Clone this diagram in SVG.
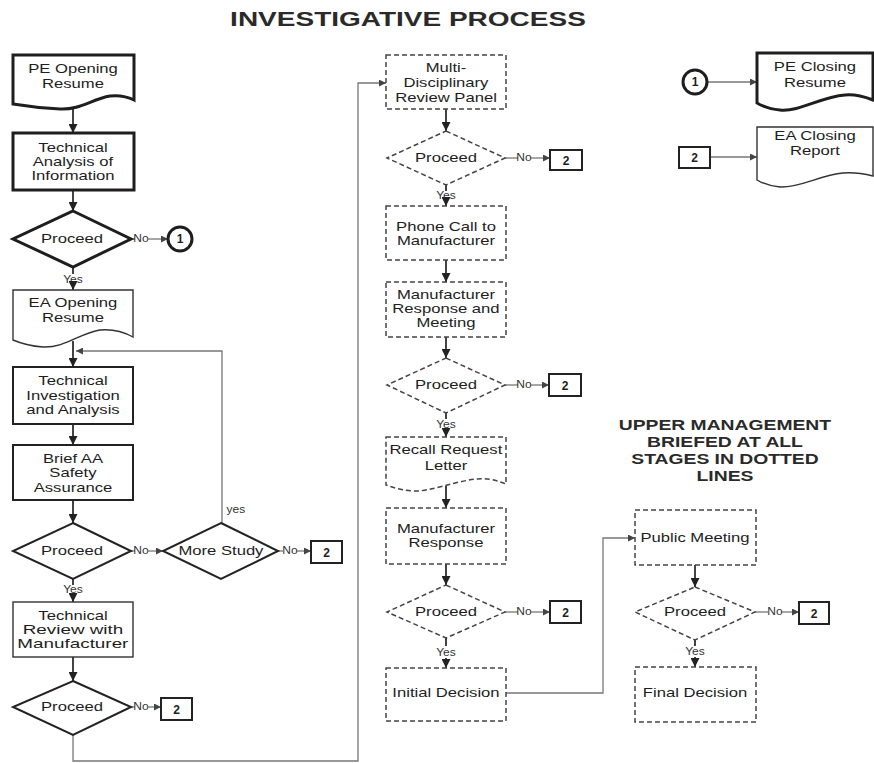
<svg xmlns="http://www.w3.org/2000/svg" width="874" height="763" viewBox="0 0 874 763">
<defs>
<style>
.t{font-family:"Liberation Sans",Arial,sans-serif;font-size:13px;fill:#1e1e1e;text-anchor:middle;transform:scaleX(1.28);transform-box:fill-box;transform-origin:center}
.s{font-family:"Liberation Sans",Arial,sans-serif;font-size:10px;fill:#333;text-anchor:middle;transform:scaleX(1.2);transform-box:fill-box;transform-origin:center}
.n{font-family:"Liberation Sans",Arial,sans-serif;font-size:12px;font-weight:bold;fill:#1e1e1e;text-anchor:middle}
.h{font-family:"Liberation Sans",Arial,sans-serif;font-weight:bold;fill:#2a2a2a;text-anchor:middle;transform-box:fill-box;transform-origin:center}
.k3{fill:#fff;stroke:#1e1e1e;stroke-width:3}
.k2{fill:#fff;stroke:#222;stroke-width:2}
.k1{fill:#fff;stroke:#333;stroke-width:1.4}
.d{fill:#fff;stroke:#444;stroke-width:1.5;stroke-dasharray:5,3}
.a{fill:none;stroke:#222;stroke-width:1.7}
.g{fill:none;stroke:#777;stroke-width:1.3}
</style>
<marker id="ah" viewBox="0 0 10 10" refX="10" refY="5" markerWidth="9" markerHeight="9" orient="auto" markerUnits="userSpaceOnUse"><path d="M0,0 L10,5 L0,10 z" fill="#222"/></marker>
<marker id="as" viewBox="0 0 10 10" refX="10" refY="5" markerWidth="7" markerHeight="7" orient="auto" markerUnits="userSpaceOnUse"><path d="M0,0 L10,5 L0,10 z" fill="#444"/></marker>
</defs>
<rect width="874" height="763" fill="#fff"/>
<text class="h" x="408" y="26.5" font-size="20" style="transform:scaleX(1.4)">INVESTIGATIVE  PROCESS</text>

<g id="connectors">
<path class="a" d="M73,108 V133" marker-end="url(#ah)"/>
<path class="a" d="M73,190 V211" marker-end="url(#ah)"/>
<path class="a" d="M73,267 V274"/>
<text class="s" x="73" y="283">Yes</text>
<path class="a" d="M73,284 V290" marker-end="url(#ah)"/>
<path class="a" d="M73,341 V367" marker-end="url(#ah)"/>
<path class="a" d="M73,424 V445" marker-end="url(#ah)"/>
<path class="a" d="M73,500 V523" marker-end="url(#ah)"/>
<path class="a" d="M73,579 V585"/>
<text class="s" x="73" y="593">Yes</text>
<path class="a" d="M73,595 V602" marker-end="url(#ah)"/>
<path class="a" d="M73,657 V681" marker-end="url(#ah)"/>

<path class="a" d="M446,109 V131" marker-end="url(#ah)"/>
<path class="a" d="M446,185 V191"/>
<text class="s" x="446" y="199">Yes</text>
<path class="a" d="M446,200 V206" marker-end="url(#ah)"/>
<path class="a" d="M446,260 V282" marker-end="url(#ah)"/>
<path class="a" d="M446,337 V358" marker-end="url(#ah)"/>
<path class="a" d="M446,413 V419"/>
<text class="s" x="446" y="428">Yes</text>
<path class="a" d="M446,430 V437" marker-end="url(#ah)"/>
<path class="a" d="M446,486 V508" marker-end="url(#ah)"/>
<path class="a" d="M446,564 V585" marker-end="url(#ah)"/>
<path class="a" d="M446,638 V646"/>
<text class="s" x="446" y="656">Yes</text>
<path class="a" d="M446,658 V668" marker-end="url(#ah)"/>

<path class="a" d="M695,565 V587" marker-end="url(#ah)"/>
<path class="a" d="M695,640 V646"/>
<text class="s" x="695" y="655">Yes</text>
<path class="a" d="M695,657 V667" marker-end="url(#ah)"/>

<path class="g" d="M131,239 H135"/>
<text class="s" x="141" y="242.5">No</text>
<path class="g" d="M147,239 H168" marker-end="url(#as)"/>
<path class="g" d="M131,551 H135"/>
<text class="s" x="141" y="554.5">No</text>
<path class="g" d="M147,551 H163" marker-end="url(#as)"/>
<path class="g" d="M278,551 H283"/>
<text class="s" x="290" y="554.5">No</text>
<path class="g" d="M297,551 H311" marker-end="url(#as)"/>
<path class="g" d="M131,707 H135"/>
<text class="s" x="141" y="710.5">No</text>
<path class="g" d="M147,707 H161" marker-end="url(#as)"/>
<path class="g" d="M505,158 H518"/>
<text class="s" x="524" y="161.5">No</text>
<path class="g" d="M531,158 H550" marker-end="url(#as)"/>
<path class="g" d="M505,385 H518"/>
<text class="s" x="524" y="388.5">No</text>
<path class="g" d="M531,385 H549" marker-end="url(#as)"/>
<path class="g" d="M505,612 H518"/>
<text class="s" x="524" y="615.5">No</text>
<path class="g" d="M531,612 H550" marker-end="url(#as)"/>
<path class="g" d="M755,612 H768"/>
<text class="s" x="775" y="615.5">No</text>
<path class="g" d="M782,612 H799" marker-end="url(#as)"/>

<path class="g" d="M222,523 V351 H76" marker-end="url(#as)"/>
<text class="s" x="236" y="513">yes</text>
<path class="g" d="M73,735 V761 H358 V83 H386" marker-end="url(#as)"/>
<path class="g" d="M506,693 H603 V538 H635" marker-end="url(#as)"/>
<path class="g" d="M707,82 H757" marker-end="url(#as)"/>
<path class="g" d="M710,157 H757" marker-end="url(#as)"/>
</g>

<g id="n-pe-open">
<path class="k3" d="M13,55 H134 V100 C126,96 118,95 110,96 C92,99 80,110 60,109 C40,108 25,106 13,104 Z"/>
<text class="t" x="73" y="73">PE Opening</text>
<text class="t" x="73" y="88">Resume</text>
</g>
<g id="n-tech-analysis">
<rect class="k3" x="13" y="133" width="121" height="57"/>
<text class="t" x="73" y="152">Technical</text>
<text class="t" x="73" y="166">Analysis of</text>
<text class="t" x="73" y="180">Information</text>
</g>
<g id="n-proceed-1">
<polygon class="k3" points="73,211 131,239 73,267 13,239"/>
<text class="t" x="72" y="243.5">Proceed</text>
</g>
<g id="n-conn-1a">
<circle class="k3" cx="180" cy="239" r="12"/>
<text class="n" x="180" y="243">1</text>
</g>
<g id="n-ea-open">
<path class="k1" d="M13,290 H133 V337 C122,331 111,329 100,330 C80,333 65,348 43,347 C30,346 20,343 13,340 Z"/>
<text class="t" x="73" y="307">EA Opening</text>
<text class="t" x="73" y="322">Resume</text>
</g>
<g id="n-tech-inv">
<rect class="k2" x="13" y="367" width="120" height="57"/>
<text class="t" x="73" y="385">Technical</text>
<text class="t" x="73" y="400">Investigation</text>
<text class="t" x="73" y="414">and Analysis</text>
</g>
<g id="n-brief">
<rect class="k2" x="13" y="445" width="120" height="55"/>
<text class="t" x="73" y="463">Brief AA</text>
<text class="t" x="73" y="477">Safety</text>
<text class="t" x="73" y="492">Assurance</text>
</g>
<g id="n-proceed-2">
<polygon class="k2" points="73,523 131,551 73,579 13,551"/>
<text class="t" x="72" y="555.5">Proceed</text>
</g>
<g id="n-more-study">
<polygon class="k2" points="221,523 278,551 221,579 163,551"/>
<text class="t" x="221" y="555.5">More Study</text>
</g>
<g id="n-box2-a">
<rect class="k2" x="311" y="541" width="31" height="22"/>
<text class="n" x="326.5" y="556.5">2</text>
</g>
<g id="n-tech-rev">
<rect class="k1" x="13" y="602" width="120" height="55"/>
<text class="t" x="73" y="620">Technical</text>
<text class="t" x="73" y="634" style="transform:scaleX(1.45)">Review with</text>
<text class="t" x="73" y="648" style="transform:scaleX(1.45)">Manufacturer</text>
</g>
<g id="n-proceed-3">
<polygon class="k2" points="73,681 131,707 73,735 13,707"/>
<text class="t" x="72" y="711.5">Proceed</text>
</g>
<g id="n-box2-b">
<rect class="k2" x="161" y="698" width="31" height="22"/>
<text class="n" x="176.5" y="713.5">2</text>
</g>

<g id="n-mdrp">
<rect class="d" x="386" y="55" width="120" height="54"/>
<text class="t" x="446" y="72">Multi-</text>
<text class="t" x="446" y="87">Disciplinary</text>
<text class="t" x="446" y="102">Review Panel</text>
</g>
<g id="n-proceed-m1">
<polygon class="d" points="446,131 505,158 446,185 387,158"/>
<text class="t" x="446" y="162">Proceed</text>
</g>
<g id="n-box2-c">
<rect class="k2" x="550" y="150" width="32" height="20"/>
<text class="n" x="566" y="164.5">2</text>
</g>
<g id="n-phone">
<rect class="d" x="386" y="206" width="120" height="54"/>
<text class="t" x="446" y="231">Phone Call to</text>
<text class="t" x="446" y="245">Manufacturer</text>
</g>
<g id="n-mrm">
<rect class="d" x="386" y="282" width="120" height="55"/>
<text class="t" x="446" y="299">Manufacturer</text>
<text class="t" x="446" y="313">Response and</text>
<text class="t" x="446" y="327">Meeting</text>
</g>
<g id="n-proceed-m2">
<polygon class="d" points="446,358 505,385 446,413 387,385"/>
<text class="t" x="446" y="389.5">Proceed</text>
</g>
<g id="n-box2-d">
<rect class="k2" x="549" y="374" width="32" height="22"/>
<text class="n" x="565" y="389.5">2</text>
</g>
<g id="n-recall">
<path class="d" d="M386,437 H506 V484 C496,480 487,478 477,479 C455,481 430,492 413,491 C400,490 392,487 386,485 Z"/>
<text class="t" x="446" y="454">Recall Request</text>
<text class="t" x="446" y="470">Letter</text>
</g>
<g id="n-mresp">
<rect class="d" x="386" y="508" width="120" height="56"/>
<text class="t" x="446" y="533">Manufacturer</text>
<text class="t" x="446" y="547">Response</text>
</g>
<g id="n-proceed-m3">
<polygon class="d" points="446,585 505,612 446,638 387,612"/>
<text class="t" x="446" y="616.5">Proceed</text>
</g>
<g id="n-box2-e">
<rect class="k2" x="550" y="601" width="31" height="22"/>
<text class="n" x="565.5" y="616.5">2</text>
</g>
<g id="n-initial">
<rect class="d" x="386" y="668" width="120" height="53"/>
<text class="t" x="446" y="697.5">Initial Decision</text>
</g>

<g id="n-public">
<rect class="d" x="635" y="510" width="121" height="55"/>
<text class="t" x="695" y="542.5">Public Meeting</text>
</g>
<g id="n-proceed-r">
<polygon class="d" points="695,587 755,612 695,640 635,612"/>
<text class="t" x="695" y="616.5">Proceed</text>
</g>
<g id="n-box2-f">
<rect class="k2" x="799" y="602" width="30" height="22"/>
<text class="n" x="814" y="617.5">2</text>
</g>
<g id="n-final">
<rect class="d" x="635" y="667" width="121" height="55"/>
<text class="t" x="695" y="697.5">Final Decision</text>
</g>

<g id="n-conn-1b">
<circle class="k3" cx="695" cy="82" r="12"/>
<text class="n" x="695" y="86">1</text>
</g>
<g id="n-pe-close">
<path class="k3" d="M757,53 H873 V100 C865,97 855,94 845,95 C820,97 800,112 780,110 C770,109 762,106 757,103 Z"/>
<text class="t" x="815" y="71">PE Closing</text>
<text class="t" x="815" y="87">Resume</text>
</g>
<g id="n-box2-g">
<rect class="k2" x="679" y="147" width="31" height="21"/>
<text class="n" x="694.5" y="162">2</text>
</g>
<g id="n-ea-close">
<path class="k1" d="M757,127 H873 V176 C865,174 855,172 843,173 C820,175 800,188 780,187 C770,186 762,183 757,180 Z"/>
<text class="t" x="815" y="140">EA Closing</text>
<text class="t" x="815" y="155">Report</text>
</g>

<g id="note">
<text class="h" x="725" y="430" font-size="14" style="transform:scaleX(1.38)">UPPER MANAGEMENT</text>
<text class="h" x="725" y="447" font-size="14" style="transform:scaleX(1.38)">BRIEFED AT ALL</text>
<text class="h" x="725" y="464" font-size="14" style="transform:scaleX(1.38)">STAGES IN DOTTED</text>
<text class="h" x="725" y="481" font-size="14" style="transform:scaleX(1.38)">LINES</text>
</g>
</svg>
